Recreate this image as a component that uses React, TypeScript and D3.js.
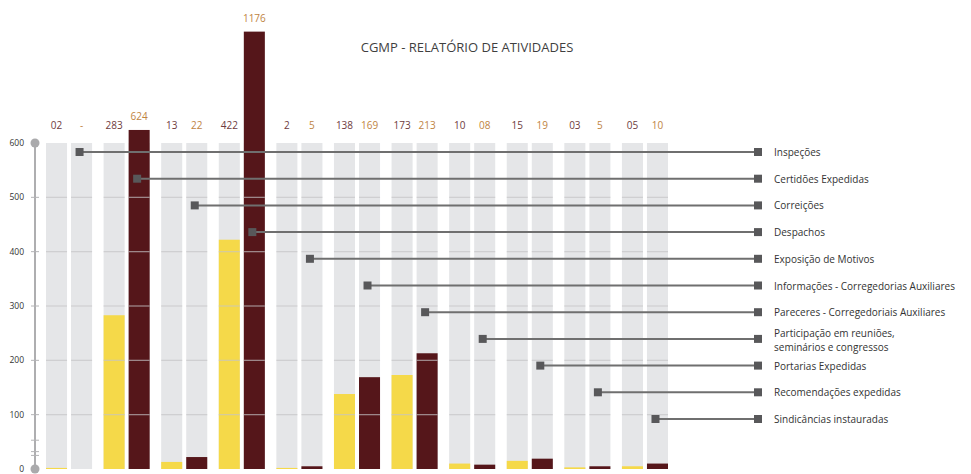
import React, { useEffect, useRef } from "react";
import * as d3 from "d3";

// data
const categories = [
  "Inspeções",
  "Certidões Expedidas",
  "Correições",
  "Despachos",
  "Exposição de Motivos",
  "Informações - Corregedorias Auxiliares",
  "Pareceres - Corregedoriais Auxiliares",
  "Participação em reuniões,\nseminários e congressos",
  "Portarias Expedidas",
  "Recomendações expedidas",
  "Sindicâncias instauradas",
];
const firstValues = [2, 283, 13, 422, 2, 138, 173, 10, 15, 3, 5];
const secondValues = [0, 624, 22, 1176, 5, 169, 213, 8, 19, 5, 10];
const firstLabels = ["02", "283", "13", "422", "2", "138", "173", "10", "15", "03", "05"];
const secondLabels = ["-", "624", "22", "1176", "5", "169", "213", "08", "19", "5", "10"];
const yTicks = [0, 100, 200, 300, 400, 500, 600];
const minorTicks = [25, 32, 53];
const maxShown = 805; // the tallest bar is cut at the top of the page

const W = 971;
const H = 474;
const FONT = "'Open Sans', 'Noto Sans', sans-serif";

export default function App() {
  const svgRef = useRef<SVGSVGElement | null>(null);

  useEffect(() => {
    document.body.style.margin = "0";
    if (!svgRef.current) return;
    const svg = d3.select(svgRef.current);
    svg.selectAll("*").remove();

    const y = d3.scaleLinear().domain([0, 600]).range([469, 143]);
    const x = d3
      .scaleBand<string>()
      .domain(categories)
      .range([46, 668])
      .paddingInner(0.2)
      .paddingOuter(0);
    const sub = d3
      .scaleBand<string>()
      .domain(["a", "b"])
      .range([0, x.bandwidth()])
      .paddingInner(0.16);
    const legendY = d3.scalePoint<string>().domain(categories).range([152, 419]);

    const rows = categories.map((c, i) => ({
      cat: c,
      bars: [
        { key: "a", value: firstValues[i], label: firstLabels[i], fill: "#f5d949", text: "#6e3b40" },
        { key: "b", value: secondValues[i], label: secondLabels[i], fill: "#55161a", text: "#c08443" },
      ],
    }));

    svg.append("text")
      .attr("x", 467)
      .attr("y", 52)
      .attr("text-anchor", "middle")
      .style("font-family", FONT)
      .style("font-size", "13px")
      .attr("fill", "#3f3f3f")
      .text("CGMP - RELATÓRIO DE ATIVIDADES");

    // axis
    const axis = svg.append("g");
    axis.append("line")
      .attr("x1", 35).attr("x2", 35)
      .attr("y1", y(600)).attr("y2", y(0))
      .attr("stroke", "#aeaeb0").attr("stroke-width", 2);
    axis.selectAll("circle")
      .data([0, 600])
      .enter()
      .append("circle")
      .attr("cx", 35).attr("cy", (d) => y(d)).attr("r", 4.5)
      .attr("fill", "#aaaaac");
    axis.selectAll(".tick")
      .data([...yTicks.slice(1, -1), ...minorTicks])
      .enter()
      .append("line")
      .attr("x1", 31).attr("x2", 39)
      .attr("y1", (d) => y(d)).attr("y2", (d) => y(d))
      .attr("stroke", "#b4b4b6").attr("stroke-width", 1);
    axis.selectAll("text")
      .data(yTicks)
      .enter()
      .append("text")
      .attr("x", 24)
      .attr("y", (d) => y(d) + 3)
      .attr("text-anchor", "end")
      .style("font-family", FONT)
      .style("font-size", "8.5px")
      .attr("fill", "#333")
      .text((d) => d);

    const groups = svg.selectAll(".grp")
      .data(rows)
      .enter()
      .append("g")
      .attr("transform", (d) => `translate(${x(d.cat)},0)`);

    const bars = groups.selectAll(".bar")
      .data((d) => d.bars)
      .enter()
      .append("g")
      .attr("transform", (d) => `translate(${sub(d.key)},0)`);

    bars.append("rect")
      .attr("y", y(600))
      .attr("width", sub.bandwidth())
      .attr("height", y(0) - y(600))
      .attr("fill", "#e5e6e8");

    bars.append("rect")
      .attr("y", (d) => y(Math.min(d.value, maxShown)))
      .attr("width", sub.bandwidth())
      .attr("height", (d) => y(0) - y(Math.min(d.value, maxShown)))
      .attr("fill", (d) => d.fill);

    bars.selectAll(".grid")
      .data(yTicks.slice(1, -1))
      .enter()
      .append("line")
      .attr("x1", 0).attr("x2", sub.bandwidth())
      .attr("y1", (d) => y(d)).attr("y2", (d) => y(d))
      .attr("stroke", "#c4c4c6").attr("stroke-opacity", 0.7).attr("stroke-width", 1.2);

    bars.append("text")
      .attr("x", sub.bandwidth() / 2)
      .attr("y", (d) => Math.min(129, y(Math.min(d.value, maxShown)) - 10))
      .attr("text-anchor", "middle")
      .style("font-family", FONT)
      .style("font-size", "10px")
      .attr("fill", (d) => d.text)
      .text((d) => d.label);

    // legend leaders
    const legend = svg.selectAll(".leg")
      .data(categories)
      .enter()
      .append("g");
    const markX = (c: string) => (x(c) as number) + (sub("b") as number) + sub.bandwidth() / 2 - 2;

    legend.append("line")
      .attr("x1", (d) => markX(d)).attr("x2", 758)
      .attr("y1", (d) => legendY(d)!).attr("y2", (d) => legendY(d)!)
      .attr("stroke", "#6f6f6f").attr("stroke-width", 2);
    legend.append("rect")
      .attr("x", (d) => markX(d) - 4).attr("y", (d) => legendY(d)! - 4)
      .attr("width", 8).attr("height", 8)
      .attr("fill", "#58585a");
    legend.append("rect")
      .attr("x", 754).attr("y", (d) => legendY(d)! - 4)
      .attr("width", 8).attr("height", 8)
      .attr("fill", "#58585a");
    legend.append("text")
      .attr("x", 774)
      .attr("y", (d) => legendY(d)! + (d.includes("\n") ? -2 : 4))
      .style("font-family", FONT)
      .style("font-size", "10px")
      .attr("fill", "#333")
      .selectAll("tspan")
      .data((d) => d.split("\n"))
      .enter()
      .append("tspan")
      .attr("x", 774)
      .attr("dy", (d, i) => (i === 0 ? 0 : 14))
      .text((d) => d);
  }, []);

  return <svg ref={svgRef} width={W} height={H} style={{ display: "block" }} />;
}
